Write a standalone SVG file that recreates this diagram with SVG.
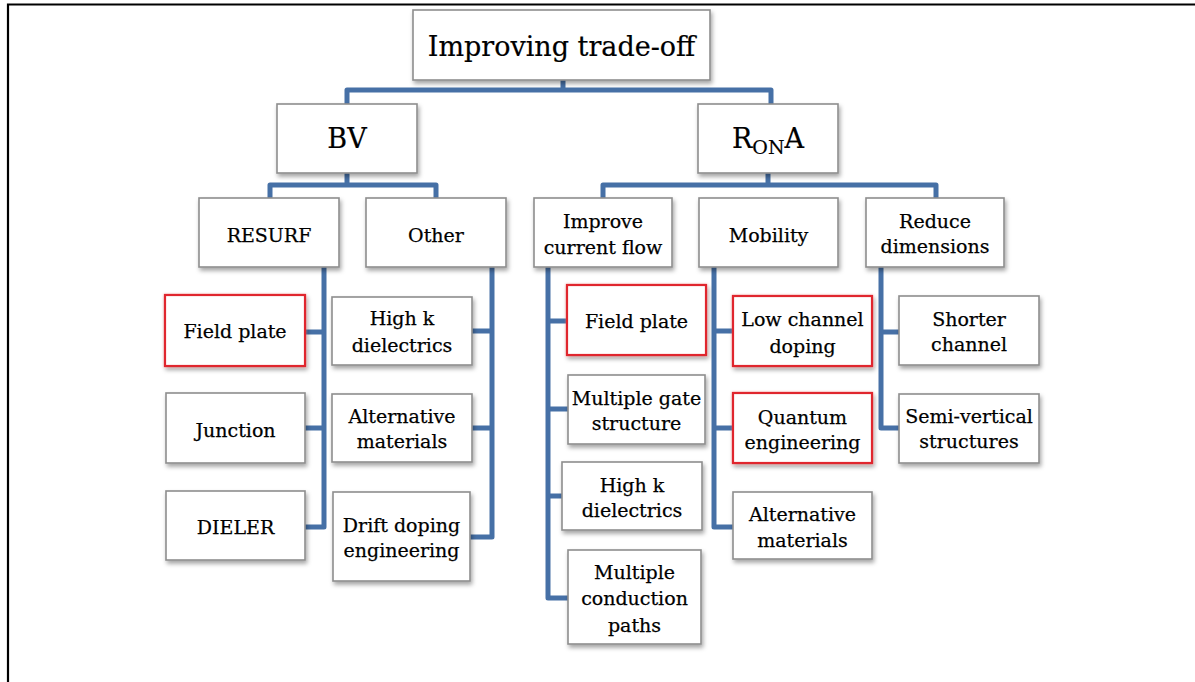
<svg xmlns="http://www.w3.org/2000/svg" width="1195" height="682" viewBox="0 0 1195 682">
<style>
.box{fill:#fff;stroke:#8e8e8e;stroke-width:1.6;filter:url(#sh)}
.red{fill:#fff;stroke:#e0282e;stroke-width:2.2;filter:url(#shr)}
.t{font-family:"DejaVu Serif","Liberation Serif",serif;font-size:19px;fill:#000;stroke:#000;stroke-width:0.25;text-anchor:middle}
.big{font-size:27px;stroke-width:0.2}
.con{fill:none;stroke:#4670a6;stroke-width:5;stroke-linejoin:round;stroke-linecap:butt}
</style>
<defs>
<filter id="sh" x="-10%" y="-10%" width="125%" height="130%">
<feDropShadow dx="1.5" dy="3" stdDeviation="2" flood-color="#000" flood-opacity="0.35"/>
</filter>
<filter id="shr" x="-10%" y="-10%" width="125%" height="130%">
<feGaussianBlur in="SourceAlpha" stdDeviation="1.2" result="b"/>
<feFlood flood-color="#f08080" flood-opacity="0.6"/>
<feComposite in2="b" operator="in" result="g"/>
<feDropShadow in="SourceGraphic" dx="1.5" dy="3" stdDeviation="2" flood-color="#000" flood-opacity="0.35" result="s"/>
<feMerge><feMergeNode in="g"/><feMergeNode in="s"/></feMerge>
</filter>
</defs>
<rect width="1195" height="682" fill="#fff"/>
<path d="M8,682 V4.5 H1195" fill="none" stroke="#000" stroke-width="2.2"/>

<g id="connectors">
<path class="con" d="M563,80 V90"/>
<path class="con" d="M347,104 V90 H771 V104"/>
<path class="con" d="M347,173 V185"/>
<path class="con" d="M270,198 V185 H436 V198"/>
<path class="con" d="M768,173 V185"/>
<path class="con" d="M603,198 V185 H936 V198"/>
<path class="con" d="M324,267 V527 H305 M305,332 H324 M305,428 H324"/>
<path class="con" d="M492,267 V537 H470 M472,331 H492 M472,428 H492"/>
<path class="con" d="M548,267 V598 H568 M548,321 H567 M548,409 H568 M548,496 H562"/>
<path class="con" d="M714,267 V527 H733 M714,331 H733 M714,428 H733"/>
<path class="con" d="M881,267 V428 H899 M881,332 H899"/>
</g>

<g id="n-top"><rect class="box" x="413" y="10" width="297" height="70"/><text class="t big" x="561.5" y="56">Improving trade-off</text></g>
<g id="n-bv"><rect class="box" x="277" y="104" width="140" height="69"/><text class="t big" x="347" y="148">BV</text></g>
<g id="n-rona"><rect class="box" x="698" y="104" width="140" height="69"/><text class="t big" x="768" y="148">R<tspan font-size="19" dy="6">ON</tspan><tspan dy="-6">A</tspan></text></g>

<g id="n-resurf"><rect class="box" x="199" y="198" width="140" height="69"/><text class="t" x="269" y="242">RESURF</text></g>
<g id="n-other"><rect class="box" x="366" y="198" width="140" height="69"/><text class="t" x="436" y="242">Other</text></g>
<g id="n-improve"><rect class="box" x="534" y="198" width="138" height="69"/><text class="t" x="603" y="228">Improve</text><text class="t" x="603" y="254">current flow</text></g>
<g id="n-mobility"><rect class="box" x="699" y="198" width="139" height="69"/><text class="t" x="768.5" y="242">Mobility</text></g>
<g id="n-reduce"><rect class="box" x="866" y="198" width="138" height="69"/><text class="t" x="935" y="228">Reduce</text><text class="t" x="935" y="253">dimensions</text></g>

<g id="n-fp1"><rect class="red" x="165" y="295" width="140" height="71"/><text class="t" x="235" y="338">Field plate</text></g>
<g id="n-junction"><rect class="box" x="166" y="393" width="139" height="70"/><text class="t" x="235.5" y="437">Junction</text></g>
<g id="n-dieler"><rect class="box" x="166" y="491" width="139" height="69"/><text class="t" x="235.5" y="534">DIELER</text></g>

<g id="n-highk1"><rect class="box" x="332" y="297" width="140" height="68"/><text class="t" x="402" y="325">High k</text><text class="t" x="402" y="352">dielectrics</text></g>
<g id="n-alt1"><rect class="box" x="332" y="394" width="140" height="68"/><text class="t" x="402" y="423">Alternative</text><text class="t" x="402" y="448">materials</text></g>
<g id="n-drift"><rect class="box" x="333" y="492" width="137" height="89"/><text class="t" x="401.5" y="532">Drift doping</text><text class="t" x="401.5" y="557">engineering</text></g>

<g id="n-fp2"><rect class="red" x="567" y="285" width="139" height="70"/><text class="t" x="636.5" y="328">Field plate</text></g>
<g id="n-mgate"><rect class="box" x="568" y="375" width="137" height="69"/><text class="t" x="636.5" y="405">Multiple gate</text><text class="t" x="636.5" y="430">structure</text></g>
<g id="n-highk2"><rect class="box" x="562" y="462" width="140" height="68"/><text class="t" x="632" y="492">High k</text><text class="t" x="632" y="517">dielectrics</text></g>
<g id="n-mcond"><rect class="box" x="568" y="550" width="133" height="94"/><text class="t" x="634.5" y="579">Multiple</text><text class="t" x="634.5" y="605">conduction</text><text class="t" x="634.5" y="632">paths</text></g>

<g id="n-lowch"><rect class="red" x="733" y="296" width="139" height="70"/><text class="t" x="802.5" y="326">Low channel</text><text class="t" x="802.5" y="353">doping</text></g>
<g id="n-quantum"><rect class="red" x="733" y="393" width="139" height="70"/><text class="t" x="802.5" y="424">Quantum</text><text class="t" x="802.5" y="449">engineering</text></g>
<g id="n-alt2"><rect class="box" x="733" y="492" width="139" height="67"/><text class="t" x="802.5" y="521">Alternative</text><text class="t" x="802.5" y="547">materials</text></g>

<g id="n-shorter"><rect class="box" x="899" y="296" width="140" height="69"/><text class="t" x="969" y="326">Shorter</text><text class="t" x="969" y="351">channel</text></g>
<g id="n-semi"><rect class="box" x="899" y="394" width="140" height="69"/><text class="t" x="969" y="423">Semi-vertical</text><text class="t" x="969" y="448">structures</text></g>
</svg>
